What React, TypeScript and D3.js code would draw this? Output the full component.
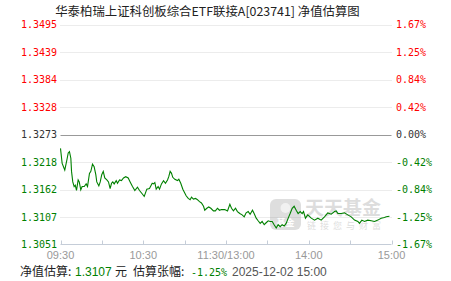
import React from "react";
import * as d3 from "d3";

const title = "华泰柏瑞上证科创板综合ETF联接A[023741] 净值估算图";
const tickPcts = [1.67, 1.2525, 0.835, 0.4175, 0, -0.4175, -0.835, -1.2525, -1.67];
const leftTickLabels = ["1.3495", "1.3439", "1.3384", "1.3328", "1.3273", "1.3218", "1.3162", "1.3107", "1.3051"];
const rightTickLabels = ["1.67%", "1.25%", "0.84%", "0.42%", "0.00%", "-0.42%", "-0.84%", "-1.25%", "-1.67%"];
const timeTicks = [0, 30, 60, 90, 120, 150, 180, 210, 240];
const timeLabelMinutes = [0, 60, 120, 180, 240];
const timeLabels = ["09:30", "10:30", "11:30/13:00", "14:00", "15:00"];

// minutes since 09:30 (trading minutes), estimated change in %
const minutes = [
  0, 1.2, 3.1, 4.6, 5.6, 6.5, 7.5, 8.0, 8.9, 9.9, 10.7, 11.6, 12.8, 13.6, 14.7, 15.7, 17.2, 18.6, 19.6, 21.0,
  22.0, 23.2, 24.4, 25.6, 26.3, 27.8, 28.8, 29.9, 31.0, 32.1, 33.6, 34.8, 36.0, 37.0, 37.9, 38.9, 40.4, 41.3, 42.8, 44.2,
  45.7, 47.3, 49.1, 50.5, 52.2, 53.9, 55.8, 57.3, 59.2, 60.7, 62.6, 64.5, 66.5, 67.4, 68.4, 69.4, 70.8, 71.8, 73.2, 74.7,
  76.1, 77.6, 78.5, 79.5, 80.5, 81.4, 82.9, 84.8, 85.8, 87.2, 88.7, 91.1, 92.6, 94.0, 95.0, 96.4, 97.9, 99.3, 100.8, 102.2,
  103.7, 104.6, 106.1, 107.5, 109.0, 110.9, 112.3, 113.8, 115.3, 116.7, 119.1, 121.1, 122.8, 124.0, 125.4, 126.9, 128.3, 130.0, 131.7, 133.2,
  134.6, 136.1, 137.5, 139.2, 140.4, 141.9, 143.3, 144.8, 146.2, 147.7, 149.1, 150.6, 152.0, 153.5, 154.9, 156.4, 157.8, 159.3, 160.7, 162.2,
  163.6, 165.1, 166.5, 168.0, 169.4, 170.9, 172.3, 173.8, 175.2, 176.2, 177.6, 179.3, 181.8, 184.2, 186.6, 189.0, 191.4, 193.8, 196.3, 198.7,
  199.9, 201.1, 203.5, 205.9, 208.3, 210.8, 213.2, 215.6, 216.8, 218.5, 220.4, 222.8, 225.3, 227.7, 230.1, 232.5, 234.9, 236.2, 238.5,
];
const changes = [
  -0.21, -0.44, -0.54, -0.39, -0.28, -0.26, -0.36, -0.56, -0.72, -0.79, -0.77, -0.85, -0.69, -0.72, -0.84, -0.79, -0.79, -0.75, -0.79, -0.59,
  -0.56, -0.45, -0.49, -0.61, -0.72, -0.78, -0.72, -0.61, -0.56, -0.66, -0.69, -0.72, -0.82, -0.74, -0.72, -0.75, -0.70, -0.74, -0.69, -0.70,
  -0.66, -0.64, -0.66, -0.72, -0.79, -0.85, -0.80, -0.85, -0.90, -0.94, -0.83, -0.82, -0.74, -0.75, -0.73, -0.83, -0.79, -0.83, -0.75, -0.70,
  -0.74, -0.69, -0.64, -0.56, -0.59, -0.65, -0.68, -0.70, -0.68, -0.74, -0.83, -0.93, -0.97, -0.99, -0.95, -0.98, -0.97, -0.99, -1.02, -1.04,
  -1.09, -1.15, -1.12, -1.10, -1.12, -1.16, -1.16, -1.12, -1.15, -1.14, -1.14, -1.16, -1.06, -1.12, -1.16, -1.12, -1.17, -1.20, -1.22, -1.25,
  -1.19, -1.17, -1.21, -1.15, -1.20, -1.27, -1.31, -1.35, -1.32, -1.37, -1.34, -1.31, -1.32, -1.32, -1.37, -1.42, -1.37, -1.40, -1.37, -1.39,
  -1.35, -1.27, -1.20, -1.12, -1.09, -1.15, -1.20, -1.17, -1.20, -1.17, -1.27, -1.22, -1.27, -1.30, -1.27, -1.30, -1.25, -1.19, -1.21, -1.17,
  -1.16, -1.20, -1.20, -1.19, -1.22, -1.25, -1.30, -1.32, -1.35, -1.30, -1.32, -1.30, -1.31, -1.32, -1.30, -1.27, -1.26, -1.25, -1.24,
];

const footerNav = "1.3107";
const footerPct = "-1.25%";
const footerTime = "2025-12-02 15:00";

const RED = "#ff0000";
const GREEN = "#008000";
const MONO = "'DejaVu Sans Mono', 'Liberation Mono', monospace";
const SANS = "'Liberation Sans', Arial, sans-serif";
const CJK = "'Noto Sans CJK SC', sans-serif";

export default function App() {
  const W = 451;
  const H = 281;
  const x = d3.scaleLinear().domain([0, 240]).range([60.5, 391.5]);
  const y = d3.scaleLinear().domain([-1.67, 1.67]).range([244.5, 24.5]);
  const pts = minutes.map((m, i) => [m, changes[i]] as [number, number]);
  const line = d3
    .line<[number, number]>()
    .x((d) => x(d[0]))
    .y((d) => y(d[1]))
    .curve(d3.curveLinear);
  const colorFor = (p: number) => (p > 0 ? RED : p < 0 ? GREEN : "#333");

  return (
    <svg
      width={W}
      height={H}
      viewBox={`0 0 ${W} ${H}`}
      style={{ position: "fixed", left: 0, top: 0, background: "#fff" }}
    >
      <rect x={0} y={0} width={W} height={H} fill="#fff" />
      <text x={207.5} y={16} textAnchor="middle" fontFamily={CJK} fontSize={12.4} fill="#222">
        {title}
      </text>

      {/* grid */}
      {tickPcts.map((p, i) =>
        p === 0 ? (
          <line key={i} x1={x(0)} x2={x(240)} y1={Math.round(y(p)) + 0.5} y2={Math.round(y(p)) + 0.5} stroke="#999" strokeWidth={1} />
        ) : i === tickPcts.length - 1 ? null : (
          <line
            key={i}
            x1={x(0)}
            x2={x(240)}
            y1={Math.round(y(p)) + 0.5}
            y2={Math.round(y(p)) + 0.5}
            stroke="#d8d8d8"
            strokeWidth={1}
            strokeDasharray="1,1"
          />
        )
      )}

      {/* watermark */}
      <g opacity={0.28}>
        <rect x={270} y={199} width={31} height={31} rx={6} fill="#8a8a8a" />
        <circle cx={285.5} cy={208} r={5} fill="#fff" opacity={0.6} />
        <text x={285.5} y={226} textAnchor="middle" fontFamily={CJK} fontSize={9} fontWeight="bold" fill="#fff">
          基金
        </text>
        <text x={305} y={215} fontFamily={CJK} fontSize={19} fontWeight="bold" fill="#888">
          天天基金
        </text>
        <text x={307} y={229} fontFamily={CJK} fontSize={9} letterSpacing={4} fill="#888">
          链接您与财富
        </text>
      </g>

      {/* bottom axis */}
      <line x1={x(0)} x2={x(240)} y1={244.5} y2={244.5} stroke="#c5cdd8" strokeWidth={1} />
      {timeTicks.map((t) => (
        <line key={t} x1={Math.round(x(t)) + 0.5} x2={Math.round(x(t)) + 0.5} y1={240.5} y2={244.5} stroke="#c5cdd8" strokeWidth={1} />
      ))}
      {timeLabelMinutes.map((t, i) => (
        <text key={t} x={x(t)} y={259} textAnchor="middle" fontFamily={SANS} fontSize={11} fill="#999">
          {timeLabels[i]}
        </text>
      ))}

      {/* y labels */}
      {tickPcts.map((p, i) => (
        <text key={"l" + i} x={57} y={y(p) + 3.5} textAnchor="end" fontFamily={MONO} fontSize={10} fill={colorFor(p)}>
          {leftTickLabels[i]}
        </text>
      ))}
      {tickPcts.map((p, i) => (
        <text key={"r" + i} x={396} y={y(p) + 3.5} textAnchor="start" fontFamily={MONO} fontSize={10} fill={colorFor(p)}>
          {rightTickLabels[i]}
        </text>
      ))}

      {/* series */}
      <path d={line(pts) || ""} fill="none" stroke={GREEN} strokeWidth={1.1} />

      {/* footer */}
      <g fontSize={12}>
        <text x={20} y={276} fontFamily={CJK} fill="#222">净值估算:</text>
        <text x={75} y={276} fontFamily={SANS} fill={GREEN}>{footerNav}</text>
        <text x={115} y={276} fontFamily={CJK} fill="#222">元</text>
        <text x={133} y={276} fontFamily={CJK} fill="#222">估算张幅:</text>
        <text x={191} y={276} fontFamily={MONO} fontSize={10} fill={GREEN}>{footerPct}</text>
        <text x={232} y={276} fontFamily={SANS} fill="#555">{footerTime}</text>
      </g>
    </svg>
  );
}
